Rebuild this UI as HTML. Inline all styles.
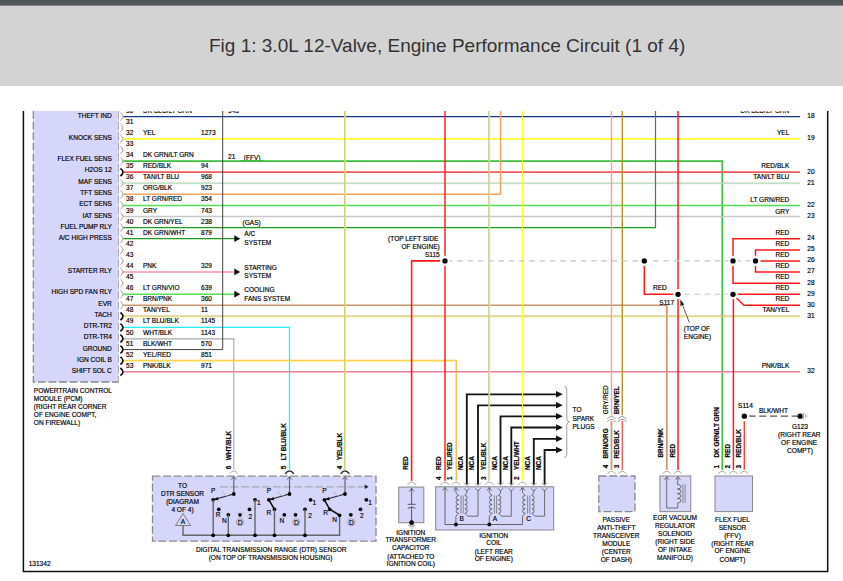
<!DOCTYPE html>
<html><head><meta charset="utf-8"><title>Fig 1</title>
<style>
html,body{margin:0;padding:0;background:#fff;}
body{width:843px;height:581px;position:relative;overflow:hidden;font-family:"Liberation Sans",sans-serif;}
#bar{position:absolute;left:0;top:0;width:843px;height:6px;background:linear-gradient(#4e5256 0,#55595c 78%,#9b9c9d 100%);z-index:2;}
#hdr{position:absolute;left:0;top:5px;width:843px;height:81px;background:#d3d3d3;}
#ttl{position:absolute;left:209px;top:33px;font-size:19px;line-height:26px;color:#333;white-space:nowrap;letter-spacing:0px;}
svg{position:absolute;left:0;top:0;}
svg text{font-family:"Liberation Sans",sans-serif;stroke:#000;stroke-width:.17px;}
</style></head><body>
<div id="bar"></div><div id="hdr"></div>
<div id="ttl">Fig 1: 3.0L 12-Valve, Engine Performance Circuit (1 of 4)</div>
<svg width="843" height="581" viewBox="0 0 843 581">
<path d="M23.4 111 L23.4 571.6 L827.7 571.6 L827.7 111" stroke="#111" stroke-width="1.5" fill="none" />
<rect x="33.3" y="111" width="85.2" height="271" fill="#d6d6fb"/>
<path d="M33.3 111 L33.3 382 L118.7 382" stroke="#8a8a8a" stroke-width="1.3" fill="none" stroke-dasharray="7.8 2.8"/>
<path d="M118.5 111 L118.5 382" stroke="#999" stroke-width="0.8" fill="none" stroke-dasharray="7.8 2.8"/>
<text x="111.8" y="118.2" font-size="6.55" text-anchor="end" fill="#000" >THEFT IND</text>
<text x="111.8" y="140.38" font-size="6.55" text-anchor="end" fill="#000" >KNOCK SENS</text>
<text x="111.8" y="161.36" font-size="6.55" text-anchor="end" fill="#000" >FLEX FUEL SENS</text>
<text x="111.8" y="172.45" font-size="6.55" text-anchor="end" fill="#000" >H2OS 12</text>
<text x="111.8" y="183.54" font-size="6.55" text-anchor="end" fill="#000" >MAF SENS</text>
<text x="111.8" y="194.63" font-size="6.55" text-anchor="end" fill="#000" >TFT SENS</text>
<text x="111.8" y="205.72" font-size="6.55" text-anchor="end" fill="#000" >ECT SENS</text>
<text x="111.8" y="218.01" font-size="6.55" text-anchor="end" fill="#000" >IAT SENS</text>
<text x="111.8" y="229.1" font-size="6.55" text-anchor="end" fill="#000" >FUEL PUMP RLY</text>
<text x="111.8" y="240.19" font-size="6.55" text-anchor="end" fill="#000" >A/C HIGH PRESS</text>
<text x="111.8" y="273.46" font-size="6.55" text-anchor="end" fill="#000" >STARTER RLY</text>
<text x="111.8" y="294.44" font-size="6.55" text-anchor="end" fill="#000" >HIGH SPD FAN RLY</text>
<text x="111.8" y="305.53" font-size="6.55" text-anchor="end" fill="#000" >EVR</text>
<text x="111.8" y="316.62" font-size="6.55" text-anchor="end" fill="#000" >TACH</text>
<text x="111.8" y="327.71" font-size="6.55" text-anchor="end" fill="#000" >DTR-TR2</text>
<text x="111.8" y="338.8" font-size="6.55" text-anchor="end" fill="#000" >DTR-TR4</text>
<text x="111.8" y="351.09" font-size="6.55" text-anchor="end" fill="#000" >GROUND</text>
<text x="111.8" y="362.18" font-size="6.55" text-anchor="end" fill="#000" >IGN COIL B</text>
<text x="111.8" y="373.27" font-size="6.55" text-anchor="end" fill="#000" >SHIFT SOL C</text>
<path d="M123.2 116.7 L800 116.7" stroke="#17378a" stroke-width="1.25" fill="none" />
<path d="M123.2 138.88 L800 138.88" stroke="#ffff2a" stroke-width="1.7" fill="none" />
<path d="M123.2 161.06 L722.3 161.06 L722.3 472.3" stroke="#3fbf3f" stroke-width="1.7" fill="none" />
<path d="M123.2 172.15 L800 172.15" stroke="#f05a5a" stroke-width="1.7" fill="none" />
<path d="M123.2 182.84 L800 182.84" stroke="#dcc0a0" stroke-width="0.8" fill="none" />
<path d="M123.2 183.64 L800 183.64" stroke="#a4e4c8" stroke-width="0.9" fill="none" />
<path d="M123.2 194.33 L500.5 194.33 L500.5 111" stroke="#f4a460" stroke-width="1.5" fill="none" />
<path d="M123.2 205.42 L800 205.42" stroke="#55e055" stroke-width="1.5" fill="none" />
<path d="M123.2 216.51 L800 216.51" stroke="#c8c8c8" stroke-width="1.3" fill="none" />
<path d="M123.2 227.6 L655.5 227.6 L655.5 111" stroke="#1f9a1f" stroke-width="1.2" fill="none" />
<path d="M123.2 238.69 L235 238.69" stroke="#1f9a1f" stroke-width="1.2" fill="none" />
<path d="M123.2 271.96 L235 271.96" stroke="#ff8fb0" stroke-width="1.5" fill="none" />
<path d="M123.2 294.14 L235 294.14" stroke="#55e055" stroke-width="1.5" fill="none" />
<path d="M123.2 305.23 L666.8 305.23 L666.8 472.3" stroke="#c8966e" stroke-width="1.7" fill="none" />
<path d="M123.2 315.92 L800 315.92" stroke="#c8b078" stroke-width="0.8" fill="none" />
<path d="M123.2 316.72 L800 316.72" stroke="#dcd858" stroke-width="0.9" fill="none" />
<path d="M123.2 327.41 L289.5 327.41 L289.5 471.8" stroke="#28ecf4" stroke-width="1.3" fill="none" />
<path d="M123.2 338.9 L233.8 338.9 L233.8 471.8" stroke="#a8a8a8" stroke-width="1.1" fill="none" />
<path d="M123.2 349.59 L222.7 349.59 L222.7 111" stroke="#3a3a3a" stroke-width="0.95" fill="none" />
<path d="M123.2 360.28 L456.4 360.28 L456.4 483" stroke="#ffac30" stroke-width="0.9" fill="none" />
<path d="M123.2 361.08 L455.6 361.08 L455.6 483" stroke="#ffe838" stroke-width="0.9" fill="none" />
<path d="M123.2 371.77 L800 371.77" stroke="#f08098" stroke-width="1.5" fill="none" />
<path d="M466.8 484.5 L466.8 394.3 L557 394.3" stroke="#141414" stroke-width="1.85" fill="none" />
<path d="M556 391 L562.8 394.3 L556 397.6 Z" fill="#111"/>
<path d="M478 484.5 L478 405.3 L557 405.3" stroke="#141414" stroke-width="1.85" fill="none" />
<path d="M556 402 L562.8 405.3 L556 408.6 Z" fill="#111"/>
<path d="M500.5 484.5 L500.5 416.3 L557 416.3" stroke="#141414" stroke-width="1.85" fill="none" />
<path d="M556 413 L562.8 416.3 L556 419.6 Z" fill="#111"/>
<path d="M511.3 484.5 L511.3 427.5 L557 427.5" stroke="#141414" stroke-width="1.85" fill="none" />
<path d="M556 424.2 L562.8 427.5 L556 430.8 Z" fill="#111"/>
<path d="M533.8 484.5 L533.8 438.8 L557 438.8" stroke="#141414" stroke-width="1.85" fill="none" />
<path d="M556 435.5 L562.8 438.8 L556 442.1 Z" fill="#111"/>
<path d="M544.6 484.5 L544.6 450 L557 450" stroke="#141414" stroke-width="1.85" fill="none" />
<path d="M556 446.7 L562.8 450 L556 453.3 Z" fill="#111"/>
<path d="M344.5 111 L344.5 471.8" stroke="#b8b890" stroke-width="0.9" fill="none" />
<path d="M345.2 111 L345.2 471.8" stroke="#f0f020" stroke-width="1.15" fill="none" />
<path d="M445 111 L445 483" stroke="#ff1a1a" stroke-width="1.45" fill="none" />
<path d="M411.6 483 L411.6 260.9 L441.5 260.9" stroke="#ff1a1a" stroke-width="1.6" fill="none" />
<path d="M488.8 111 L488.8 483" stroke="#b8b890" stroke-width="0.9" fill="none" />
<path d="M489.5 111 L489.5 483" stroke="#f0f020" stroke-width="1.15" fill="none" />
<path d="M522.5 111 L522.5 483" stroke="#ffff2a" stroke-width="1.15" fill="none" />
<path d="M611.5 111 L611.5 417" stroke="#f0a4a4" stroke-width="1.45" fill="none" />
<path d="M611.5 420 L611.5 472.3" stroke="#c8a070" stroke-width="1.8" fill="none" />
<path d="M622.3 111 L622.3 417" stroke="#b09020" stroke-width="1.35" fill="none" />
<path d="M622.3 420 L622.3 472.3" stroke="#f06060" stroke-width="1.5" fill="none" />
<path d="M678 111 L678 472.3" stroke="#ff1a1a" stroke-width="1.5" fill="none" />
<path d="M644.3 260.9 L644.3 294.3 L675 294.3" stroke="#ff1a1a" stroke-width="1.5" fill="none" />
<path d="M733.4 298 L733.4 472.3" stroke="#ff1a1a" stroke-width="1.5" fill="none" />
<path d="M744.3 420.5 L744.3 472.3" stroke="#f04040" stroke-width="1.4" fill="none" />
<path d="M733 262 L733 238.8 L800 238.8" stroke="#ff1a1a" stroke-width="1.5" fill="none" />
<path d="M733 259 L733 283.3 L800 283.3" stroke="#ff1a1a" stroke-width="1.5" fill="none" />
<path d="M755.5 260.9 L755.5 250 L800 250" stroke="#ff1a1a" stroke-width="1.5" fill="none" />
<path d="M755.5 260.9 L755.5 272 L800 272" stroke="#ff1a1a" stroke-width="1.5" fill="none" />
<path d="M759 260.9 L800 260.9" stroke="#ff1a1a" stroke-width="1.5" fill="none" />
<path d="M737 294.3 L800 294.3" stroke="#ff1a1a" stroke-width="1.5" fill="none" />
<path d="M736.5 298 L744 305.2 L800 305.2" stroke="#ff1a1a" stroke-width="1.5" fill="none" />
<path d="M447.05 260.9 L755 260.9" stroke="#c6c6c6" stroke-width="1.1" fill="none" stroke-dasharray="5.4 4.9"/>
<path d="M684.2 294.3 L730 294.3" stroke="#c6c6c6" stroke-width="1.1" fill="none" stroke-dasharray="5.4 4.9"/>
<circle cx="445" cy="260.9" r="5.05" fill="#fff"/>
<circle cx="445" cy="260.9" r="2.65" fill="#000"/>
<circle cx="644.3" cy="260.9" r="5.05" fill="#fff"/>
<circle cx="644.3" cy="260.9" r="2.65" fill="#000"/>
<circle cx="733" cy="260.9" r="5.05" fill="#fff"/>
<circle cx="733" cy="260.9" r="2.65" fill="#000"/>
<circle cx="755.5" cy="260.9" r="5.05" fill="#fff"/>
<circle cx="755.5" cy="260.9" r="2.65" fill="#000"/>
<circle cx="678" cy="294.3" r="5.05" fill="#fff"/>
<circle cx="678" cy="294.3" r="2.65" fill="#000"/>
<circle cx="733" cy="294.3" r="5.05" fill="#fff"/>
<circle cx="733" cy="294.3" r="2.65" fill="#000"/>
<path d="M120.4 112.9 Q125.6 116.7 120.4 120.5" stroke="#9a9a9a" stroke-width="1.0" fill="none"/>
<path d="M120.4 123.99 Q125.6 127.79 120.4 131.59" stroke="#9a9a9a" stroke-width="1.0" fill="none"/>
<path d="M120.4 135.08 Q125.6 138.88 120.4 142.68" stroke="#9a9a9a" stroke-width="1.0" fill="none"/>
<path d="M120.4 146.17 Q125.6 149.97 120.4 153.77" stroke="#9a9a9a" stroke-width="1.0" fill="none"/>
<path d="M120.4 157.26 Q125.6 161.06 120.4 164.86" stroke="#9a9a9a" stroke-width="1.0" fill="none"/>
<path d="M120.4 168.35 Q125.6 172.15 120.4 175.95" stroke="#111" stroke-width="1.7" fill="none"/>
<path d="M120.4 179.44 Q125.6 183.24 120.4 187.04" stroke="#9a9a9a" stroke-width="1.0" fill="none"/>
<path d="M120.4 190.53 Q125.6 194.33 120.4 198.13" stroke="#9a9a9a" stroke-width="1.0" fill="none"/>
<path d="M120.4 201.62 Q125.6 205.42 120.4 209.22" stroke="#9a9a9a" stroke-width="1.0" fill="none"/>
<path d="M120.4 212.71 Q125.6 216.51 120.4 220.31" stroke="#9a9a9a" stroke-width="1.0" fill="none"/>
<path d="M120.4 223.8 Q125.6 227.6 120.4 231.4" stroke="#9a9a9a" stroke-width="1.0" fill="none"/>
<path d="M120.4 234.89 Q125.6 238.69 120.4 242.49" stroke="#9a9a9a" stroke-width="1.0" fill="none"/>
<path d="M120.4 245.98 Q125.6 249.78 120.4 253.58" stroke="#9a9a9a" stroke-width="1.0" fill="none"/>
<path d="M120.4 257.07 Q125.6 260.87 120.4 264.67" stroke="#9a9a9a" stroke-width="1.0" fill="none"/>
<path d="M120.4 268.16 Q125.6 271.96 120.4 275.76" stroke="#9a9a9a" stroke-width="1.0" fill="none"/>
<path d="M120.4 279.25 Q125.6 283.05 120.4 286.85" stroke="#9a9a9a" stroke-width="1.0" fill="none"/>
<path d="M120.4 290.34 Q125.6 294.14 120.4 297.94" stroke="#9a9a9a" stroke-width="1.0" fill="none"/>
<path d="M120.4 301.43 Q125.6 305.23 120.4 309.03" stroke="#9a9a9a" stroke-width="1.0" fill="none"/>
<path d="M120.4 312.52 Q125.6 316.32 120.4 320.12" stroke="#111" stroke-width="1.7" fill="none"/>
<path d="M120.4 323.61 Q125.6 327.41 120.4 331.21" stroke="#111" stroke-width="1.7" fill="none"/>
<path d="M120.4 334.7 Q125.6 338.5 120.4 342.3" stroke="#111" stroke-width="1.7" fill="none"/>
<path d="M120.4 345.79 Q125.6 349.59 120.4 353.39" stroke="#111" stroke-width="1.7" fill="none"/>
<path d="M120.4 356.88 Q125.6 360.68 120.4 364.48" stroke="#111" stroke-width="1.7" fill="none"/>
<path d="M120.4 367.97 Q125.6 371.77 120.4 375.57" stroke="#111" stroke-width="1.7" fill="none"/>
<text x="126" y="123.79" font-size="6.55" text-anchor="start" fill="#000" >31</text>
<text x="126" y="134.88" font-size="6.55" text-anchor="start" fill="#000" >32</text>
<text x="143" y="134.88" font-size="6.55" text-anchor="start" fill="#000" >YEL</text>
<text x="201" y="134.88" font-size="6.55" text-anchor="start" fill="#000" >1273</text>
<text x="126" y="145.97" font-size="6.55" text-anchor="start" fill="#000" >33</text>
<text x="126" y="157.06" font-size="6.55" text-anchor="start" fill="#000" >34</text>
<text x="143" y="157.06" font-size="6.55" text-anchor="start" fill="#000" >DK GRN/LT GRN</text>
<text x="126" y="168.15" font-size="6.55" text-anchor="start" fill="#000" >35</text>
<text x="143" y="168.15" font-size="6.55" text-anchor="start" fill="#000" >RED/BLK</text>
<text x="201" y="168.15" font-size="6.55" text-anchor="start" fill="#000" >94</text>
<text x="126" y="179.24" font-size="6.55" text-anchor="start" fill="#000" >36</text>
<text x="143" y="179.24" font-size="6.55" text-anchor="start" fill="#000" >TAN/LT BLU</text>
<text x="201" y="179.24" font-size="6.55" text-anchor="start" fill="#000" >968</text>
<text x="126" y="190.33" font-size="6.55" text-anchor="start" fill="#000" >37</text>
<text x="143" y="190.33" font-size="6.55" text-anchor="start" fill="#000" >ORG/BLK</text>
<text x="201" y="190.33" font-size="6.55" text-anchor="start" fill="#000" >923</text>
<text x="126" y="201.42" font-size="6.55" text-anchor="start" fill="#000" >38</text>
<text x="143" y="201.42" font-size="6.55" text-anchor="start" fill="#000" >LT GRN/RED</text>
<text x="201" y="201.42" font-size="6.55" text-anchor="start" fill="#000" >354</text>
<text x="126" y="212.51" font-size="6.55" text-anchor="start" fill="#000" >39</text>
<text x="143" y="212.51" font-size="6.55" text-anchor="start" fill="#000" >GRY</text>
<text x="201" y="212.51" font-size="6.55" text-anchor="start" fill="#000" >743</text>
<text x="126" y="223.6" font-size="6.55" text-anchor="start" fill="#000" >40</text>
<text x="143" y="223.6" font-size="6.55" text-anchor="start" fill="#000" >DK GRN/YEL</text>
<text x="201" y="223.6" font-size="6.55" text-anchor="start" fill="#000" >238</text>
<text x="126" y="234.69" font-size="6.55" text-anchor="start" fill="#000" >41</text>
<text x="143" y="234.69" font-size="6.55" text-anchor="start" fill="#000" >DK GRN/WHT</text>
<text x="201" y="234.69" font-size="6.55" text-anchor="start" fill="#000" >879</text>
<text x="126" y="245.78" font-size="6.55" text-anchor="start" fill="#000" >42</text>
<text x="126" y="256.87" font-size="6.55" text-anchor="start" fill="#000" >43</text>
<text x="126" y="267.96" font-size="6.55" text-anchor="start" fill="#000" >44</text>
<text x="143" y="267.96" font-size="6.55" text-anchor="start" fill="#000" >PNK</text>
<text x="201" y="267.96" font-size="6.55" text-anchor="start" fill="#000" >329</text>
<text x="126" y="279.05" font-size="6.55" text-anchor="start" fill="#000" >45</text>
<text x="126" y="290.14" font-size="6.55" text-anchor="start" fill="#000" >46</text>
<text x="143" y="290.14" font-size="6.55" text-anchor="start" fill="#000" >LT GRN/VIO</text>
<text x="201" y="290.14" font-size="6.55" text-anchor="start" fill="#000" >639</text>
<text x="126" y="301.23" font-size="6.55" text-anchor="start" fill="#000" >47</text>
<text x="143" y="301.23" font-size="6.55" text-anchor="start" fill="#000" >BRN/PNK</text>
<text x="201" y="301.23" font-size="6.55" text-anchor="start" fill="#000" >360</text>
<text x="126" y="312.32" font-size="6.55" text-anchor="start" fill="#000" >48</text>
<text x="143" y="312.32" font-size="6.55" text-anchor="start" fill="#000" >TAN/YEL</text>
<text x="201" y="312.32" font-size="6.55" text-anchor="start" fill="#000" >11</text>
<text x="126" y="323.41" font-size="6.55" text-anchor="start" fill="#000" >49</text>
<text x="143" y="323.41" font-size="6.55" text-anchor="start" fill="#000" >LT BLU/BLK</text>
<text x="201" y="323.41" font-size="6.55" text-anchor="start" fill="#000" >1145</text>
<text x="126" y="334.5" font-size="6.55" text-anchor="start" fill="#000" >50</text>
<text x="143" y="334.5" font-size="6.55" text-anchor="start" fill="#000" >WHT/BLK</text>
<text x="201" y="334.5" font-size="6.55" text-anchor="start" fill="#000" >1143</text>
<text x="126" y="345.59" font-size="6.55" text-anchor="start" fill="#000" >51</text>
<text x="143" y="345.59" font-size="6.55" text-anchor="start" fill="#000" >BLK/WHT</text>
<text x="201" y="345.59" font-size="6.55" text-anchor="start" fill="#000" >570</text>
<text x="126" y="356.68" font-size="6.55" text-anchor="start" fill="#000" >52</text>
<text x="143" y="356.68" font-size="6.55" text-anchor="start" fill="#000" >YEL/RED</text>
<text x="201" y="356.68" font-size="6.55" text-anchor="start" fill="#000" >851</text>
<text x="126" y="367.77" font-size="6.55" text-anchor="start" fill="#000" >53</text>
<text x="143" y="367.77" font-size="6.55" text-anchor="start" fill="#000" >PNK/BLK</text>
<text x="201" y="367.77" font-size="6.55" text-anchor="start" fill="#000" >971</text>
<clipPath id="ct"><rect x="0" y="111.3" width="843" height="20"/></clipPath>
<g clip-path="url(#ct)">
<text x="126" y="112.7" font-size="6.55" text-anchor="start" fill="#000" >30</text>
<text x="143" y="112.7" font-size="6.55" text-anchor="start" fill="#000" >DK BLU/LT GRN</text>
<text x="228" y="112.7" font-size="6.55" text-anchor="start" fill="#000" >343</text>
<text x="789.3" y="112.7" font-size="6.55" text-anchor="end" fill="#000" >DK BLU/LT GRN</text>
</g>
<text x="228" y="158.8" font-size="6.55" text-anchor="start" fill="#000" >21</text>
<text x="243.8" y="160.3" font-size="6.55" text-anchor="start" fill="#000" >(FFV)</text>
<text x="242.5" y="225" font-size="6.55" text-anchor="start" fill="#000" >(GAS)</text>
<path d="M240 161.06 L265 161.06" stroke="#3fbf3f" stroke-width="1.7" fill="none" />
<path d="M234.3 235.29 L240.3 238.69 L234.3 242.09 Z" fill="#111"/>
<text x="244.3" y="236.49" font-size="6.55" text-anchor="start" fill="#000" >A/C</text>
<text x="244.3" y="245.09" font-size="6.55" text-anchor="start" fill="#000" >SYSTEM</text>
<path d="M234.3 268.56 L240.3 271.96 L234.3 275.36 Z" fill="#111"/>
<text x="244.3" y="269.76" font-size="6.55" text-anchor="start" fill="#000" >STARTING</text>
<text x="244.3" y="278.36" font-size="6.55" text-anchor="start" fill="#000" >SYSTEM</text>
<path d="M234.3 290.74 L240.3 294.14 L234.3 297.54 Z" fill="#111"/>
<text x="244.3" y="291.94" font-size="6.55" text-anchor="start" fill="#000" >COOLING</text>
<text x="244.3" y="300.54" font-size="6.55" text-anchor="start" fill="#000" >FANS SYSTEM</text>
<text x="807.3" y="118" font-size="6.55" text-anchor="start" fill="#000" >18</text>
<text x="789.3" y="134.68" font-size="6.55" text-anchor="end" fill="#000" >YEL</text>
<text x="807.3" y="140.18" font-size="6.55" text-anchor="start" fill="#000" >19</text>
<text x="789.3" y="167.95" font-size="6.55" text-anchor="end" fill="#000" >RED/BLK</text>
<text x="807.3" y="174.45" font-size="6.55" text-anchor="start" fill="#000" >20</text>
<text x="789.3" y="179.04" font-size="6.55" text-anchor="end" fill="#000" >TAN/LT BLU</text>
<text x="807.3" y="184.54" font-size="6.55" text-anchor="start" fill="#000" >21</text>
<text x="789.3" y="201.92" font-size="6.55" text-anchor="end" fill="#000" >LT GRN/RED</text>
<text x="807.3" y="206.72" font-size="6.55" text-anchor="start" fill="#000" >22</text>
<text x="789.3" y="213.51" font-size="6.55" text-anchor="end" fill="#000" >GRY</text>
<text x="807.3" y="217.81" font-size="6.55" text-anchor="start" fill="#000" >23</text>
<text x="789.3" y="312.12" font-size="6.55" text-anchor="end" fill="#000" >TAN/YEL</text>
<text x="807.3" y="317.62" font-size="6.55" text-anchor="start" fill="#000" >31</text>
<text x="789.3" y="367.57" font-size="6.55" text-anchor="end" fill="#000" >PNK/BLK</text>
<text x="807.3" y="373.07" font-size="6.55" text-anchor="start" fill="#000" >32</text>
<text x="789.3" y="234.6" font-size="6.55" text-anchor="end" fill="#000" >RED</text>
<text x="807.3" y="240.1" font-size="6.55" text-anchor="start" fill="#000" >24</text>
<text x="789.3" y="245.8" font-size="6.55" text-anchor="end" fill="#000" >RED</text>
<text x="807.3" y="251.3" font-size="6.55" text-anchor="start" fill="#000" >25</text>
<text x="789.3" y="256.7" font-size="6.55" text-anchor="end" fill="#000" >RED</text>
<text x="807.3" y="262.2" font-size="6.55" text-anchor="start" fill="#000" >26</text>
<text x="789.3" y="267.8" font-size="6.55" text-anchor="end" fill="#000" >RED</text>
<text x="807.3" y="273.3" font-size="6.55" text-anchor="start" fill="#000" >27</text>
<text x="789.3" y="279.1" font-size="6.55" text-anchor="end" fill="#000" >RED</text>
<text x="807.3" y="284.6" font-size="6.55" text-anchor="start" fill="#000" >28</text>
<text x="789.3" y="290.1" font-size="6.55" text-anchor="end" fill="#000" >RED</text>
<text x="807.3" y="295.6" font-size="6.55" text-anchor="start" fill="#000" >29</text>
<text x="789.3" y="301" font-size="6.55" text-anchor="end" fill="#000" >RED</text>
<text x="807.3" y="306.5" font-size="6.55" text-anchor="start" fill="#000" >30</text>
<text x="438.3" y="241.2" font-size="6.55" text-anchor="end" fill="#000" >(TOP LEFT SIDE</text>
<text x="439.7" y="249" font-size="6.55" text-anchor="end" fill="#000" >OF ENGINE)</text>
<text x="439.7" y="256.8" font-size="6.55" text-anchor="end" fill="#000" >S115</text>
<text x="653" y="290" font-size="6.55" text-anchor="start" fill="#000" >RED</text>
<text x="659.3" y="305" font-size="6.55" text-anchor="start" fill="#000" >S117</text>
<path d="M689.3 322.5 L681.2 301.5" stroke="#333" stroke-width="0.8" fill="none" />
<path d="M680.3 299.5 L684.3 304.6 L680.4 305.9 Z" fill="#222"/>
<text x="683.8" y="331.3" font-size="6.55" text-anchor="start" fill="#000" >(TOP OF</text>
<text x="683.8" y="339.3" font-size="6.55" text-anchor="start" fill="#000" >ENGINE)</text>
<text x="33.8" y="393" font-size="6.55" text-anchor="start" fill="#000" >POWERTRAIN CONTROL</text>
<text x="33.8" y="401" font-size="6.55" text-anchor="start" fill="#000" >MODULE (PCM)</text>
<text x="33.8" y="409" font-size="6.55" text-anchor="start" fill="#000" >(RIGHT REAR CORNER</text>
<text x="33.8" y="417" font-size="6.55" text-anchor="start" fill="#000" >OF ENGINE COMPT,</text>
<text x="33.8" y="425" font-size="6.55" text-anchor="start" fill="#000" >ON FIREWALL)</text>
<text x="28.7" y="565.8" font-size="6.55" text-anchor="start" fill="#000" >131342</text>
<path d="M748.5 416.2 L797.5 416.2" stroke="#555" stroke-width="1.2" fill="none" stroke-dasharray="7 3.8"/>
<circle cx="744.3" cy="416.2" r="5.05" fill="#fff"/>
<circle cx="744.3" cy="416.2" r="2.65" fill="#000"/>
<circle cx="800.1" cy="416.2" r="2.65" fill="#000"/>
<path d="M803.2 412.9 L803.2 419.5" stroke="#8c8c8c" stroke-width="1.1" fill="none" />
<path d="M805.4 414.2 L805.4 418.2" stroke="#a4a4a4" stroke-width="1.0" fill="none" />
<path d="M807.3 415.3 L807.3 417.1" stroke="#bcbcbc" stroke-width="1.0" fill="none" />
<text x="738.1" y="407.5" font-size="6.55" text-anchor="start" fill="#000" >S114</text>
<text x="758.9" y="412.8" font-size="6.55" text-anchor="start" fill="#000" >BLK/WHT</text>
<text x="800" y="428.6" font-size="6.55" text-anchor="middle" fill="#000" >G123</text>
<text x="799.3" y="436.7" font-size="6.55" text-anchor="middle" fill="#000" >(RIGHT REAR</text>
<text x="799.1" y="444.8" font-size="6.55" text-anchor="middle" fill="#000" >OF ENGINE</text>
<text x="800" y="452.9" font-size="6.55" text-anchor="middle" fill="#000" >COMPT)</text>
<path d="M463.6 482.6 L466.8 485.6 L470 482.6" stroke="#999" stroke-width="0.8" fill="none"/>
<path d="M474.8 482.6 L478 485.6 L481.2 482.6" stroke="#999" stroke-width="0.8" fill="none"/>
<path d="M497.3 482.6 L500.5 485.6 L503.7 482.6" stroke="#999" stroke-width="0.8" fill="none"/>
<path d="M508.1 482.6 L511.3 485.6 L514.5 482.6" stroke="#999" stroke-width="0.8" fill="none"/>
<path d="M530.6 482.6 L533.8 485.6 L537 482.6" stroke="#999" stroke-width="0.8" fill="none"/>
<path d="M541.4 482.6 L544.6 485.6 L547.8 482.6" stroke="#999" stroke-width="0.8" fill="none"/>
<path d="M564.3 386.3 Q566.8 386.8 566.8 389.5 L566.8 418.5 Q566.8 421.3 569.5 421.8 Q566.8 422.3 566.8 425 L566.8 454.3 Q566.8 457 564.3 457.5" stroke="#888" stroke-width="0.8" fill="none"/>
<text x="572.5" y="411.5" font-size="6.55" text-anchor="start" fill="#000" >TO</text>
<text x="572.5" y="421" font-size="6.55" text-anchor="start" fill="#000" >SPARK</text>
<text x="572.5" y="428.5" font-size="6.55" text-anchor="start" fill="#000" >PLUGS</text>
<rect x="152.5" y="476.2" width="223.5" height="65" fill="#d6d6fb" stroke="#8a8a8a" stroke-width="1.3" stroke-dasharray="7.8 2.8"/>
<path d="M229.5 473.8 Q233.8 468 238.1 473.8" stroke="#fff" stroke-width="2.8" fill="none"/>
<path d="M229.5 473.8 Q233.8 468 238.1 473.8" stroke="#aaa" stroke-width="1.0" fill="none"/>
<path d="M285.2 473.8 Q289.5 468 293.8 473.8" stroke="#fff" stroke-width="2.8" fill="none"/>
<path d="M285.2 473.8 Q289.5 468 293.8 473.8" stroke="#222" stroke-width="1.4" fill="none"/>
<path d="M340.7 473.8 Q345 468 349.3 473.8" stroke="#fff" stroke-width="2.8" fill="none"/>
<path d="M340.7 473.8 Q345 468 349.3 473.8" stroke="#222" stroke-width="1.4" fill="none"/>
<path d="M220 486.8 L366 486.8" stroke="#a8a8b8" stroke-width="1.2" fill="none" stroke-dasharray="7.8 2.8"/>
<path d="M364.8 484.6 L368.6 486.8 L364.8 489 Z" fill="#222"/>
<text x="182.5" y="487.5" font-size="6.55" text-anchor="middle" fill="#000" >TO</text>
<text x="182.5" y="495.6" font-size="6.55" text-anchor="middle" fill="#000" >DTR SENSOR</text>
<text x="182.5" y="503.7" font-size="6.55" text-anchor="middle" fill="#000" >(DIAGRAM</text>
<text x="182.5" y="511.8" font-size="6.55" text-anchor="middle" fill="#000" >4 OF 4)</text>
<path d="M183 513.5 L175.5 525.5 L190.8 525.5 Z" fill="#d6d6fb" stroke="#666" stroke-width="0.8"/>
<text x="183" y="523.6" font-size="6.55" text-anchor="middle" fill="#000" >A</text>
<path d="M183 525.5 L183 535.3 L339.6 535.3 L339.6 515.3" stroke="#666" stroke-width="1.4" fill="none" />
<path d="M231.4 479.6 L233.8 476.4 L236.2 479.6" stroke="#555" stroke-width="0.8" fill="none"/>
<path d="M233.8 477 L233.8 494" stroke="#666" stroke-width="1.2" fill="none" />
<path d="M233.8 494 L215.2 499.3" stroke="#222" stroke-width="1.1" fill="none" />
<path d="M213.2 499.8 L217.8 496.9 L218.5 500.2 Z" fill="#111"/>
<path d="M222.4 491.5 L225.8 496" stroke="#aaa" stroke-width="0.8" fill="none" />
<path d="M225.8 496 L228.2 495.4" stroke="#bbb" stroke-width="0.7" fill="none" />
<circle cx="233.8" cy="494" r="1.9" fill="#000"/>
<circle cx="213.2" cy="499.8" r="1.9" fill="#000"/>
<text x="213.2" y="493.3" font-size="6.55" text-anchor="middle" fill="#000" >P</text>
<path d="M213.2 499.8 L213.2 535.3" stroke="#666" stroke-width="1.4" fill="none" />
<circle cx="218.8" cy="509.3" r="1.9" fill="#000"/>
<circle cx="228.3" cy="514.8" r="1.9" fill="#000"/>
<circle cx="240" cy="514.8" r="1.9" fill="#000"/>
<circle cx="249.5" cy="509.3" r="1.9" fill="#000"/>
<circle cx="255" cy="499.8" r="1.9" fill="#000"/>
<path d="M228.3 514.8 L228.3 535.3" stroke="#666" stroke-width="1.4" fill="none" />
<path d="M255 499.8 L255 535.3" stroke="#666" stroke-width="1.4" fill="none" />
<text x="218" y="516.8" font-size="6.55" text-anchor="middle" fill="#000" >R</text>
<text x="224.3" y="522.8" font-size="6.55" text-anchor="middle" fill="#000" >N</text>
<text x="240" y="524.6" font-size="6.55" text-anchor="middle" fill="#000" >D</text>
<text x="250.3" y="518.8" font-size="6.55" text-anchor="middle" fill="#000" >2</text>
<text x="258.8" y="505" font-size="6.55" text-anchor="middle" fill="#000" >1</text>
<circle cx="240" cy="522.3" r="3.6" fill="none" stroke="#777" stroke-width="0.6"/>
<circle cx="213.2" cy="535.3" r="1.9" fill="#000"/>
<circle cx="228.3" cy="535.3" r="1.9" fill="#000"/>
<circle cx="255" cy="535.3" r="1.9" fill="#000"/>
<path d="M287.1 479.6 L289.5 476.4 L291.9 479.6" stroke="#555" stroke-width="0.8" fill="none"/>
<path d="M289.5 477 L289.5 494" stroke="#666" stroke-width="1.2" fill="none" />
<path d="M289.5 494 L270.9 499.3" stroke="#222" stroke-width="1.1" fill="none" />
<path d="M268.9 499.8 L273.5 496.9 L274.2 500.2 Z" fill="#111"/>
<path d="M278.1 491.5 L281.5 496" stroke="#aaa" stroke-width="0.8" fill="none" />
<path d="M281.5 496 L283.9 495.4" stroke="#bbb" stroke-width="0.7" fill="none" />
<circle cx="289.5" cy="494" r="1.9" fill="#000"/>
<circle cx="268.9" cy="499.8" r="1.9" fill="#000"/>
<text x="268.9" y="493.3" font-size="6.55" text-anchor="middle" fill="#000" >P</text>
<path d="M268.9 499.8 L274.5 509.3" stroke="#111" stroke-width="1.6" fill="none" />
<circle cx="274.5" cy="509.3" r="1.9" fill="#000"/>
<circle cx="284.3" cy="514.8" r="1.9" fill="#000"/>
<circle cx="295.5" cy="514.8" r="1.9" fill="#000"/>
<circle cx="305" cy="509.3" r="1.9" fill="#000"/>
<circle cx="310.6" cy="499.8" r="1.9" fill="#000"/>
<path d="M274.5 509.3 L274.5 535.3" stroke="#666" stroke-width="1.4" fill="none" />
<path d="M305 509.3 L305 535.3" stroke="#666" stroke-width="1.4" fill="none" />
<text x="268.8" y="515.3" font-size="6.55" text-anchor="middle" fill="#000" >R</text>
<text x="281.8" y="523.2" font-size="6.55" text-anchor="middle" fill="#000" >N</text>
<text x="296.3" y="524.6" font-size="6.55" text-anchor="middle" fill="#000" >D</text>
<text x="310" y="517.5" font-size="6.55" text-anchor="middle" fill="#000" >2</text>
<text x="314.3" y="505" font-size="6.55" text-anchor="middle" fill="#000" >1</text>
<circle cx="296.3" cy="522.3" r="3.6" fill="none" stroke="#777" stroke-width="0.6"/>
<circle cx="274.5" cy="535.3" r="1.9" fill="#000"/>
<circle cx="305" cy="535.3" r="1.9" fill="#000"/>
<path d="M342.6 479.6 L345 476.4 L347.4 479.6" stroke="#555" stroke-width="0.8" fill="none"/>
<path d="M345 477 L345 494" stroke="#666" stroke-width="1.2" fill="none" />
<path d="M345 494 L326.4 499.3" stroke="#222" stroke-width="1.1" fill="none" />
<path d="M324.4 499.8 L329 496.9 L329.7 500.2 Z" fill="#111"/>
<path d="M333.6 491.5 L337 496" stroke="#aaa" stroke-width="0.8" fill="none" />
<path d="M337 496 L339.4 495.4" stroke="#bbb" stroke-width="0.7" fill="none" />
<circle cx="345" cy="494" r="1.9" fill="#000"/>
<circle cx="324.4" cy="499.8" r="1.9" fill="#000"/>
<text x="324.4" y="493.3" font-size="6.55" text-anchor="middle" fill="#000" >P</text>
<path d="M324.4 499.8 L329.7 509.3 L339.6 515.3" stroke="#111" stroke-width="1.6" fill="none" />
<circle cx="329.7" cy="509.3" r="1.9" fill="#000"/>
<circle cx="339.6" cy="515.3" r="1.9" fill="#000"/>
<circle cx="350.8" cy="514.8" r="1.9" fill="#000"/>
<circle cx="360.5" cy="509.3" r="1.9" fill="#000"/>
<circle cx="366.3" cy="499.8" r="1.9" fill="#000"/>
<text x="325.5" y="515.3" font-size="6.55" text-anchor="middle" fill="#000" >R</text>
<text x="334.5" y="522" font-size="6.55" text-anchor="middle" fill="#000" >N</text>
<text x="351.3" y="524.6" font-size="6.55" text-anchor="middle" fill="#000" >D</text>
<text x="361.8" y="518.3" font-size="6.55" text-anchor="middle" fill="#000" >2</text>
<text x="370" y="505.2" font-size="6.55" text-anchor="middle" fill="#000" >1</text>
<circle cx="351.3" cy="522.3" r="3.6" fill="none" stroke="#777" stroke-width="0.6"/>
<text x="271.3" y="552" font-size="6.55" text-anchor="middle" fill="#000" >DIGITAL TRANSMISSION RANGE (DTR) SENSOR</text>
<text x="270.6" y="560.3" font-size="6.55" text-anchor="middle" fill="#000" >(ON TOP OF TRANSMISSION HOUSING)</text>
<text transform="translate(230.5 469.2) rotate(-90)" font-size="6.4" font-weight="bold" fill="#000">6</text>
<text transform="translate(230.5 460.3) rotate(-90)" font-size="6.4" font-weight="bold" fill="#000">WHT/BLK</text>
<text transform="translate(286.2 469.2) rotate(-90)" font-size="6.4" font-weight="bold" fill="#000">5</text>
<text transform="translate(286.2 460.3) rotate(-90)" font-size="6.4" font-weight="bold" fill="#000">LT BLU/BLK</text>
<text transform="translate(341.7 469.2) rotate(-90)" font-size="6.4" font-weight="bold" fill="#000">4</text>
<text transform="translate(341.7 460.3) rotate(-90)" font-size="6.4" font-weight="bold" fill="#000">YEL/BLK</text>
<rect x="398.7" y="487.1" width="25.1" height="35.6" fill="#d6d6fb" stroke="#888" stroke-width="1"/>
<path d="M407.3 485 Q411.6 479.2 415.9 485" stroke="#fff" stroke-width="2.8" fill="none"/>
<path d="M407.3 485 Q411.6 479.2 415.9 485" stroke="#aaa" stroke-width="1.0" fill="none"/>
<path d="M409.2 491.5 L411.6 488.3 L414 491.5" stroke="#444" stroke-width="0.8" fill="none"/>
<path d="M411.6 488.5 L411.6 504.3" stroke="#333" stroke-width="0.8" fill="none" />
<path d="M407.6 504.3 L415.6 504.3" stroke="#333" stroke-width="0.8" fill="none" />
<path d="M407.8 508.4 Q411.6 505.4 415.4 508.4" stroke="#333" stroke-width="0.8" fill="none"/>
<path d="M411.6 507 L411.6 522.7" stroke="#333" stroke-width="0.8" fill="none" />
<path d="M408 525.2 L415.2 525.2 M409.3 526.7 L413.9 526.7 M410.6 528.2 L412.6 528.2" stroke="#999" stroke-width="0.9"/>
<circle cx="411.6" cy="522.7" r="2.4" fill="#000"/>
<text transform="translate(408.3 469.8) rotate(-90)" font-size="6.4" font-weight="bold" fill="#000">RED</text>
<text x="410.8" y="534.8" font-size="6.55" text-anchor="middle" fill="#000" >IGNITION</text>
<text x="410.8" y="542" font-size="6.55" text-anchor="middle" fill="#000" >TRANSFORMER</text>
<text x="410.8" y="549.6" font-size="6.55" text-anchor="middle" fill="#000" >CAPACITOR</text>
<text x="410.8" y="558.5" font-size="6.55" text-anchor="middle" fill="#000" >(ATTACHED TO</text>
<text x="410.8" y="566" font-size="6.55" text-anchor="middle" fill="#000" >IGNITION COIL)</text>
<rect x="435.7" y="486.8" width="118" height="43.2" fill="#d6d6fb" stroke="#888" stroke-width="1"/>
<path d="M445 487.5 L445 524.5 L522.5 524.5" stroke="#555" stroke-width="0.9" fill="none" />
<path d="M440.7 485 Q445 479.2 449.3 485" stroke="#fff" stroke-width="2.8" fill="none"/>
<path d="M440.7 485 Q445 479.2 449.3 485" stroke="#aaa" stroke-width="1.0" fill="none"/>
<path d="M442.6 490.6 L445 487.4 L447.4 490.6" stroke="#555" stroke-width="0.8" fill="none"/>
<path d="M451.6 485 Q455.9 479.2 460.2 485" stroke="#fff" stroke-width="2.8" fill="none"/>
<path d="M451.6 485 Q455.9 479.2 460.2 485" stroke="#aaa" stroke-width="1.0" fill="none"/>
<path d="M453.5 490.6 L455.9 487.4 L458.3 490.6" stroke="#555" stroke-width="0.8" fill="none"/>
<path d="M485 485 Q489.3 479.2 493.6 485" stroke="#fff" stroke-width="2.8" fill="none"/>
<path d="M485 485 Q489.3 479.2 493.6 485" stroke="#aaa" stroke-width="1.0" fill="none"/>
<path d="M486.9 490.6 L489.3 487.4 L491.7 490.6" stroke="#555" stroke-width="0.8" fill="none"/>
<path d="M518.2 485 Q522.5 479.2 526.8 485" stroke="#fff" stroke-width="2.8" fill="none"/>
<path d="M518.2 485 Q522.5 479.2 526.8 485" stroke="#aaa" stroke-width="1.0" fill="none"/>
<path d="M520.1 490.6 L522.5 487.4 L524.9 490.6" stroke="#555" stroke-width="0.8" fill="none"/>
<path d="M455.9 487.6 L455.9 492.6 L458.7 495.6 A2.7 2.2 0 0 0 458.7 500 A2.7 2.2 0 0 0 458.7 504.4 A2.7 2.2 0 0 0 458.7 508.8 A2.7 2.2 0 0 0 458.7 513.2 L455.9 516.2 L455.9 524.5" stroke="#5a5a5a" stroke-width="0.85" fill="none"/>
<path d="M461 495.6 L461 513.6" stroke="#666" stroke-width="0.7" fill="none" />
<path d="M463.2 495.6 L463.2 513.6" stroke="#666" stroke-width="0.7" fill="none" />
<path d="M466.8 490.8 L466.8 492.8 L464.9 495.6 A2.3 2.2 0 0 1 464.9 500 A2.3 2.2 0 0 1 464.9 504.4 A2.3 2.2 0 0 1 464.9 508.8 A2.3 2.2 0 0 1 464.9 513.2 L467.8 516.2 L478 516.2 L478 490.8" stroke="#5a5a5a" stroke-width="0.85" fill="none"/>
<path d="M464.2 488.3 L466.8 491.1 L469.4 488.3" stroke="#555" stroke-width="0.8" fill="none"/>
<path d="M475.4 488.3 L478 491.1 L480.6 488.3" stroke="#555" stroke-width="0.8" fill="none"/>
<path d="M489.3 487.6 L489.3 492.6 L492.1 495.6 A2.7 2.2 0 0 0 492.1 500 A2.7 2.2 0 0 0 492.1 504.4 A2.7 2.2 0 0 0 492.1 508.8 A2.7 2.2 0 0 0 492.1 513.2 L489.3 516.2 L489.3 524.5" stroke="#5a5a5a" stroke-width="0.85" fill="none"/>
<path d="M494.4 495.6 L494.4 513.6" stroke="#666" stroke-width="0.7" fill="none" />
<path d="M496.6 495.6 L496.6 513.6" stroke="#666" stroke-width="0.7" fill="none" />
<path d="M500.5 490.8 L500.5 492.8 L498.6 495.6 A2.3 2.2 0 0 1 498.6 500 A2.3 2.2 0 0 1 498.6 504.4 A2.3 2.2 0 0 1 498.6 508.8 A2.3 2.2 0 0 1 498.6 513.2 L501.5 516.2 L511.3 516.2 L511.3 490.8" stroke="#5a5a5a" stroke-width="0.85" fill="none"/>
<path d="M497.9 488.3 L500.5 491.1 L503.1 488.3" stroke="#555" stroke-width="0.8" fill="none"/>
<path d="M508.7 488.3 L511.3 491.1 L513.9 488.3" stroke="#555" stroke-width="0.8" fill="none"/>
<path d="M522.5 487.6 L522.5 492.6 L525.3 495.6 A2.7 2.2 0 0 0 525.3 500 A2.7 2.2 0 0 0 525.3 504.4 A2.7 2.2 0 0 0 525.3 508.8 A2.7 2.2 0 0 0 525.3 513.2 L522.5 516.2 L522.5 524.5" stroke="#5a5a5a" stroke-width="0.85" fill="none"/>
<path d="M527.6 495.6 L527.6 513.6" stroke="#666" stroke-width="0.7" fill="none" />
<path d="M529.8 495.6 L529.8 513.6" stroke="#666" stroke-width="0.7" fill="none" />
<path d="M533.8 490.8 L533.8 492.8 L531.9 495.6 A2.3 2.2 0 0 1 531.9 500 A2.3 2.2 0 0 1 531.9 504.4 A2.3 2.2 0 0 1 531.9 508.8 A2.3 2.2 0 0 1 531.9 513.2 L534.8 516.2 L544.6 516.2 L544.6 490.8" stroke="#5a5a5a" stroke-width="0.85" fill="none"/>
<path d="M531.2 488.3 L533.8 491.1 L536.4 488.3" stroke="#555" stroke-width="0.8" fill="none"/>
<path d="M542 488.3 L544.6 491.1 L547.2 488.3" stroke="#555" stroke-width="0.8" fill="none"/>
<circle cx="455.9" cy="524.5" r="1.9" fill="#000"/>
<circle cx="489.3" cy="524.5" r="1.9" fill="#000"/>
<text x="461.6" y="521" font-size="6.55" text-anchor="middle" fill="#000" >B</text>
<text x="495" y="521" font-size="6.55" text-anchor="middle" fill="#000" >A</text>
<text x="528.7" y="521" font-size="6.55" text-anchor="middle" fill="#000" >C</text>
<text x="493.8" y="538.3" font-size="6.55" text-anchor="middle" fill="#000" >IGNITION</text>
<text x="493.8" y="545.3" font-size="6.55" text-anchor="middle" fill="#000" >COIL</text>
<text x="493.8" y="554.3" font-size="6.55" text-anchor="middle" fill="#000" >(LEFT REAR</text>
<text x="493.8" y="560.7" font-size="6.55" text-anchor="middle" fill="#000" >OF ENGINE)</text>
<text transform="translate(441.3 480) rotate(-90)" font-size="6.4" font-weight="bold" fill="#000">4</text>
<text transform="translate(441.3 470) rotate(-90)" font-size="6.4" font-weight="bold" fill="#000">RED</text>
<text transform="translate(452.2 480) rotate(-90)" font-size="6.4" font-weight="bold" fill="#000">1</text>
<text transform="translate(452.2 470) rotate(-90)" font-size="6.4" font-weight="bold" fill="#000">YEL/RED</text>
<text transform="translate(463.1 470) rotate(-90)" font-size="6.4" font-weight="bold" fill="#000">NCA</text>
<text transform="translate(474.3 470) rotate(-90)" font-size="6.4" font-weight="bold" fill="#000">NCA</text>
<text transform="translate(485.6 480) rotate(-90)" font-size="6.4" font-weight="bold" fill="#000">3</text>
<text transform="translate(485.6 470) rotate(-90)" font-size="6.4" font-weight="bold" fill="#000">YEL/BLK</text>
<text transform="translate(496.8 470) rotate(-90)" font-size="6.4" font-weight="bold" fill="#000">NCA</text>
<text transform="translate(507.6 470) rotate(-90)" font-size="6.4" font-weight="bold" fill="#000">NCA</text>
<text transform="translate(518.8 480) rotate(-90)" font-size="6.4" font-weight="bold" fill="#000">2</text>
<text transform="translate(518.8 470) rotate(-90)" font-size="6.4" font-weight="bold" fill="#000">YEL/WHT</text>
<text transform="translate(530.1 470) rotate(-90)" font-size="6.4" font-weight="bold" fill="#000">NCA</text>
<text transform="translate(540.9 470) rotate(-90)" font-size="6.4" font-weight="bold" fill="#000">NCA</text>
<rect x="598.8" y="476" width="36.2" height="35.6" fill="#d6d6fb" stroke="#8a8a8a" stroke-width="1.3" stroke-dasharray="7.8 2.8"/>
<path d="M607.2 474.1 Q611.5 468.3 615.8 474.1" stroke="#fff" stroke-width="2.8" fill="none"/>
<path d="M607.2 474.1 Q611.5 468.3 615.8 474.1" stroke="#aaa" stroke-width="1.0" fill="none"/>
<path d="M607.2 419 Q611.5 414.2 615.8 419" stroke="#fff" stroke-width="2.8" fill="none"/>
<path d="M607.2 419 Q611.5 414.2 615.8 419" stroke="#999" stroke-width="1.0" fill="none"/>
<path d="M607.2 421.8 Q611.5 417 615.8 421.8" stroke="#fff" stroke-width="2.8" fill="none"/>
<path d="M607.2 421.8 Q611.5 417 615.8 421.8" stroke="#999" stroke-width="1.0" fill="none"/>
<path d="M618 474.1 Q622.3 468.3 626.6 474.1" stroke="#fff" stroke-width="2.8" fill="none"/>
<path d="M618 474.1 Q622.3 468.3 626.6 474.1" stroke="#aaa" stroke-width="1.0" fill="none"/>
<path d="M618 419 Q622.3 414.2 626.6 419" stroke="#fff" stroke-width="2.8" fill="none"/>
<path d="M618 419 Q622.3 414.2 626.6 419" stroke="#999" stroke-width="1.0" fill="none"/>
<path d="M618 421.8 Q622.3 417 626.6 421.8" stroke="#fff" stroke-width="2.8" fill="none"/>
<path d="M618 421.8 Q622.3 417 626.6 421.8" stroke="#999" stroke-width="1.0" fill="none"/>
<text transform="translate(608 468.3) rotate(-90)" font-size="6.4" font-weight="bold" fill="#000">4</text>
<text transform="translate(608 458.5) rotate(-90)" font-size="6.4" font-weight="bold" fill="#000">BRN/ORG</text>
<text transform="translate(619 468.3) rotate(-90)" font-size="6.4" font-weight="bold" fill="#000">3</text>
<text transform="translate(619 458.5) rotate(-90)" font-size="6.4" font-weight="bold" fill="#000">RED/BLK</text>
<text transform="translate(608 414.3) rotate(-90)" font-size="6.4" fill="#000">GRY/RED</text>
<text transform="translate(619 414.3) rotate(-90)" font-size="6.4" font-weight="bold" fill="#000">BRN/YEL</text>
<text x="616.3" y="521.9" font-size="6.55" text-anchor="middle" fill="#000" >PASSIVE</text>
<text x="616.3" y="529.9" font-size="6.55" text-anchor="middle" fill="#000" >ANTI-THEFT</text>
<text x="616.3" y="538" font-size="6.55" text-anchor="middle" fill="#000" >TRANSCEIVER</text>
<text x="616.3" y="546.2" font-size="6.55" text-anchor="middle" fill="#000" >MODULE</text>
<text x="616.3" y="554.3" font-size="6.55" text-anchor="middle" fill="#000" >(CENTER</text>
<text x="616.3" y="562.3" font-size="6.55" text-anchor="middle" fill="#000" >OF DASH)</text>
<rect x="659.9" y="476" width="30.9" height="35.6" fill="#d6d6fb" stroke="#888" stroke-width="1"/>
<path d="M662.5 474.1 Q666.8 468.3 671.1 474.1" stroke="#fff" stroke-width="2.8" fill="none"/>
<path d="M662.5 474.1 Q666.8 468.3 671.1 474.1" stroke="#aaa" stroke-width="1.0" fill="none"/>
<path d="M664.4 479.8 L666.8 476.6 L669.2 479.8" stroke="#555" stroke-width="0.8" fill="none"/>
<path d="M673.7 474.1 Q678 468.3 682.3 474.1" stroke="#fff" stroke-width="2.8" fill="none"/>
<path d="M673.7 474.1 Q678 468.3 682.3 474.1" stroke="#aaa" stroke-width="1.0" fill="none"/>
<path d="M675.6 479.8 L678 476.6 L680.4 479.8" stroke="#555" stroke-width="0.8" fill="none"/>
<path d="M666.7 477 L666.7 508 L677.8 508 L677.8 504.5 L677.4 503 A3.6 2.32 0 0 0 677.4 498.35 A3.6 2.32 0 0 0 677.4 493.7 A3.6 2.32 0 0 0 677.4 489.05 A3.6 2.32 0 0 0 677.4 484.4 L677.9 480.5 L677.9 477" stroke="#5a5a5a" stroke-width="0.85" fill="none"/>
<path d="M682.9 484.4 L682.9 503" stroke="#666" stroke-width="0.7" fill="none" />
<path d="M685.1 484.4 L685.1 503" stroke="#666" stroke-width="0.7" fill="none" />
<text transform="translate(663.4 457.5) rotate(-90)" font-size="6.4" font-weight="bold" fill="#000">BRN/PNK</text>
<text transform="translate(674.6 457.5) rotate(-90)" font-size="6.4" font-weight="bold" fill="#000">RED</text>
<text x="675" y="519.8" font-size="6.55" text-anchor="middle" fill="#000" >EGR VACUUM</text>
<text x="675" y="527.8" font-size="6.55" text-anchor="middle" fill="#000" >REGULATOR</text>
<text x="675" y="535.6" font-size="6.55" text-anchor="middle" fill="#000" >SOLENOID</text>
<text x="675" y="544" font-size="6.55" text-anchor="middle" fill="#000" >(RIGHT SIDE</text>
<text x="675" y="551.8" font-size="6.55" text-anchor="middle" fill="#000" >OF INTAKE</text>
<text x="675" y="560" font-size="6.55" text-anchor="middle" fill="#000" >MANIFOLD)</text>
<rect x="715" y="476" width="37.5" height="35.6" fill="#d6d6fb" stroke="#888" stroke-width="1"/>
<path d="M718 474.1 Q722.3 468.3 726.6 474.1" stroke="#fff" stroke-width="2.8" fill="none"/>
<path d="M718 474.1 Q722.3 468.3 726.6 474.1" stroke="#aaa" stroke-width="1.0" fill="none"/>
<path d="M729.1 474.1 Q733.4 468.3 737.7 474.1" stroke="#fff" stroke-width="2.8" fill="none"/>
<path d="M729.1 474.1 Q733.4 468.3 737.7 474.1" stroke="#aaa" stroke-width="1.0" fill="none"/>
<path d="M740 474.1 Q744.3 468.3 748.6 474.1" stroke="#fff" stroke-width="2.8" fill="none"/>
<path d="M740 474.1 Q744.3 468.3 748.6 474.1" stroke="#aaa" stroke-width="1.0" fill="none"/>
<text transform="translate(718.9 468.5) rotate(-90)" font-size="6.4" font-weight="bold" fill="#000">1</text>
<text transform="translate(718.9 457.5) rotate(-90)" font-size="6.4" font-weight="bold" fill="#000">DK GRN/LT GRN</text>
<text transform="translate(730 468.5) rotate(-90)" font-size="6.4" font-weight="bold" fill="#000">2</text>
<text transform="translate(730 457.5) rotate(-90)" font-size="6.4" font-weight="bold" fill="#000">RED</text>
<text transform="translate(741 468.5) rotate(-90)" font-size="6.4" font-weight="bold" fill="#000">3</text>
<text transform="translate(741 457.5) rotate(-90)" font-size="6.4" font-weight="bold" fill="#000">RED/BLK</text>
<text x="732.5" y="521.5" font-size="6.55" text-anchor="middle" fill="#000" >FLEX FUEL</text>
<text x="732.5" y="529.8" font-size="6.55" text-anchor="middle" fill="#000" >SENSOR</text>
<text x="732.5" y="538" font-size="6.55" text-anchor="middle" fill="#000" >(FFV)</text>
<text x="732.5" y="546" font-size="6.55" text-anchor="middle" fill="#000" >(RIGHT REAR</text>
<text x="732.5" y="553.2" font-size="6.55" text-anchor="middle" fill="#000" >OF ENGINE</text>
<text x="732.5" y="561.8" font-size="6.55" text-anchor="middle" fill="#000" >COMPT)</text>
</svg>
</body></html>
